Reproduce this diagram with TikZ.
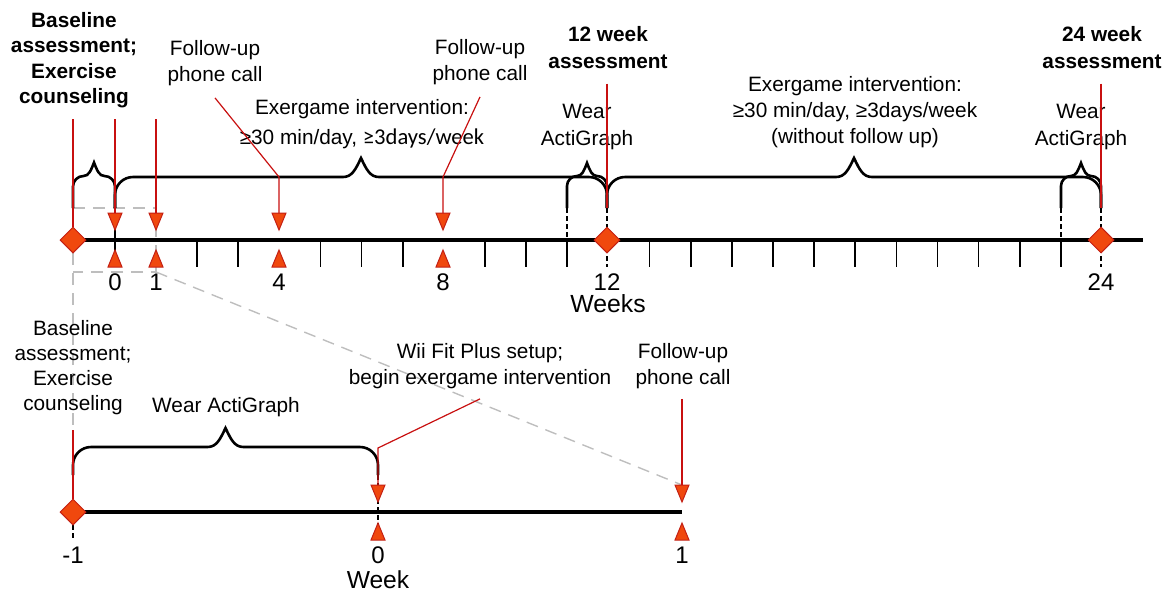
\documentclass[tikz,border=0pt]{standalone}
\usepackage{fontspec}
\setmainfont{Liberation Sans}
\newfontfamily\calfont{Carlito}
\usetikzlibrary{shapes.geometric}
\definecolor{markred}{RGB}{240,72,14}
\definecolor{edgered}{RGB}{196,32,20}
\definecolor{linered}{RGB}{200,16,16}
\definecolor{zoomgray}{RGB}{190,190,190}

% curly bracket with legs: left x, right x, y of bar, y of leg ends
\newcommand{\tlbrace}[4]{%
  \pgfmathsetmacro{\bmid}{(#1+#2)/2}
  \pgfmathsetmacro{\bw}{min(18,(#2-#1)/4)}
  \pgfmathsetmacro{\bh}{min(19,(#2-#1)/4+3)}
  \draw[brace] (#1,#4) -- (#1,#3+\bw)
    .. controls (#1,#3+0.45*\bw) and (#1+0.45*\bw,#3) .. (#1+\bw,#3) -- (\bmid-\bw,#3)
    .. controls (\bmid-0.5*\bw,#3) and (\bmid-0.3*\bw,#3-0.4*\bh) .. (\bmid,#3-\bh)
    .. controls (\bmid+0.3*\bw,#3-0.4*\bh) and (\bmid+0.5*\bw,#3) .. (\bmid+\bw,#3) -- (#2-\bw,#3)
    .. controls (#2-0.45*\bw,#3) and (#2,#3+0.45*\bw) .. (#2,#3+\bw) -- (#2,#4);
}

\tikzset{
    tridown/.pic={\filldraw[marker] (-7,-17) -- (7,-17) -- (0,0) -- cycle;},
    triup/.pic={\filldraw[marker] (-7,17) -- (7,17) -- (0,0) -- cycle;}
}

\begin{document}
\begin{tikzpicture}[
    x=0.5pt, y=-0.5pt,
    lbl/.style={align=center, inner sep=0pt, font=\fontsize{10.4}{12.8}\selectfont},
    boldlbl/.style={align=center, inner sep=0pt, font=\fontsize{10.4}{12.7}\selectfont\bfseries},
    num/.style={inner sep=0pt, font=\fontsize{12}{14}\selectfont},
    axis/.style={line width=2pt},
    tick/.style={line width=0.8pt},
    brace/.style={line width=1.3pt},
    redline/.style={linered, line width=0.6pt},
    zoomline/.style={zoomgray, line width=0.7pt, dash pattern=on 6pt off 4pt},
    guide/.style={line width=0.6pt, dash pattern=on 2.5pt off 1.5pt},
    dmd/.style={diamond, draw=edgered, fill=markred, line width=0.5pt, minimum size=13pt, inner sep=0pt},
    marker/.style={draw=edgered, fill=markred, line width=0.5pt}
]
    \useasboundingbox (0,0) rectangle (1168,591);

    % zoom guides
    \coordinate (zoomtl) at (73,208);
    \coordinate (zoomtr) at (156,208);
    \coordinate (zoombr) at (156,272);
    \coordinate (zoombl) at (73,272);
    \coordinate (zoomlow) at (73,430);
    \draw[zoomline] (zoomtl) -- (zoomtr) -- (zoombr) -- (zoombl);
    \draw[zoomline] (73,253) -- (zoomlow);
    \draw[zoomline] (zoombr) -- (682,485);

    % braces
    \tlbrace{73}{115}{176}{208}
    \tlbrace{115}{607}{177}{208}
    \tlbrace{567}{607}{176}{208}
    \tlbrace{607}{1101}{177}{208}
    \tlbrace{1061}{1101}{176}{208}
    \tlbrace{73}{378}{447}{475}

    % time axes
    \draw[axis] (73,240) -- (1143,240);
    \draw[axis] (73,512) -- (682,512);
    \foreach \w in {2,3,5,6,7,9,10,11,13,14,...,23}
        \draw[tick] ({73.6+41.14*(\w+1)},240) -- ++(0,27);
    \draw[tick] (115,208) -- (115,267);
    \draw[guide] (567,208) -- (567,240);
    \draw[guide] (1061,208) -- (1061,240);
    \draw[guide] (607,208) -- (607,267);
    \draw[guide] (1101,208) -- (1101,267);
    \draw[guide] (378,475) -- (378,540);
    \draw[guide] (73,525) -- (73,540);

    % markers
    \node[dmd] (dstart) at (73,240) {};
    \node[dmd] (d12) at (607,240) {};
    \node[dmd] (d24) at (1101,240) {};
    \node[dmd] (dlow) at (73,512) {};
    \coordinate (t0) at (115,213);
    \coordinate (t1) at (156,213);
    \coordinate (t4) at (279,213);
    \coordinate (t8) at (443,213);
    \coordinate (tl0) at (378,485);
    \coordinate (tl1) at (682,485);
    \foreach \x in {115,156,279,443} {
        \pic at (\x,230) {tridown};
        \pic at (\x,250) {triup};
    }
    \foreach \x in {378,682} {
        \pic at (\x,502) {tridown};
        \pic at (\x,523) {triup};
    }

    % upper labels
    \node[boldlbl] (baseline) at (74,60) {Baseline\\assessment;\\Exercise\\counseling};
    \node[lbl] (callA) at (215,63) {Follow-up\\phone call};
    \node[lbl] (exerA) at (362,124) {Exergame intervention:\\[2pt]≥30 min/day, {\calfont\fontsize{11.3}{13}\selectfont ≥3days/week}};
    \node[lbl] (callB) at (480,62) {Follow-up\\phone call};
    \node[boldlbl, font=\fontsize{10.4}{13.5}\selectfont\bfseries] (assessB) at (608,48) {12 week\\assessment};
    \node[lbl, font=\fontsize{10.4}{13.5}\selectfont] (wearA) at (587,127) {Wear\\ActiGraph};
    \node[lbl, font=\fontsize{10.4}{13}\selectfont] (exerB) at (855,112) {Exergame intervention:\\≥30 min/day, ≥3days/week\\(without follow up)};
    \node[boldlbl, font=\fontsize{10.4}{13.5}\selectfont\bfseries] (assessC) at (1102,48) {24 week\\assessment};
    \node[lbl, font=\fontsize{10.4}{13.5}\selectfont] (wearB) at (1081,127) {Wear\\ActiGraph};

    % week numbers
    \node[num] (wk0) at (115,282) {0};
    \node[num] (wk1) at (156,282) {1};
    \node[num] (wk4) at (279,282) {4};
    \node[num] (wk8) at (443,282) {8};
    \node[num] (wk12) at (607,282) {12};
    \node[num] (wk24) at (1101,282) {24};
    \node[num, font=\fontsize{12.4}{14}\selectfont] (weeks) at (608,304) {Weeks};

    % lower labels
    \node[lbl, font=\fontsize{10.4}{12.5}\selectfont] (baselow) at (73,368) {Baseline\\assessment;\\Exercise\\counseling};
    \node[lbl] (wearlow) at (226,407) {Wear ActiGraph};
    \node[lbl] (setup) at (480,366) {Wii Fit Plus setup;\\begin exergame intervention};
    \node[lbl] (calllow) at (683,366) {Follow-up\\phone call};
    \node[num] (lowm1) at (73,555) {-1};
    \node[num] (low0) at (378,555) {0};
    \node[num] (low1) at (682,555) {1};
    \node[num, font=\fontsize{12.3}{14}\selectfont] (week) at (378,580) {Week};

    % red pointers
    \coordinate (bendA) at (279,177);
    \coordinate (bendB) at (443,177);
    \coordinate (bendlow) at (378,448);
    \draw[redline] ([yshift=-5.5pt]baseline.south -| dstart) -- (dstart.north);
    \draw[redline] ([yshift=-5.5pt]baseline.south -| t0) -- (t0);
    \draw[redline] ([yshift=-5.5pt]baseline.south -| t1) -- (t1);
    \draw[redline] ([yshift=-6pt]callA.south) -- (bendA) -- (t4);
    \draw[redline] ([yshift=-6pt]callB.south) -- (bendB) -- (t8);
    \draw[redline] ([yshift=-7pt]assessB.south -| d12) -- (607,208);
    \draw[redline] ([yshift=-7pt]assessC.south -| d24) -- (1101,208);
    \draw[redline] (zoomlow) -- (dlow.north);
    \draw[redline] ([yshift=-5pt]setup.south) -- (bendlow) -- (tl0);
    \draw[redline] ([yshift=-5pt]calllow.south -| tl1) -- (tl1);
\end{tikzpicture}
\end{document}
